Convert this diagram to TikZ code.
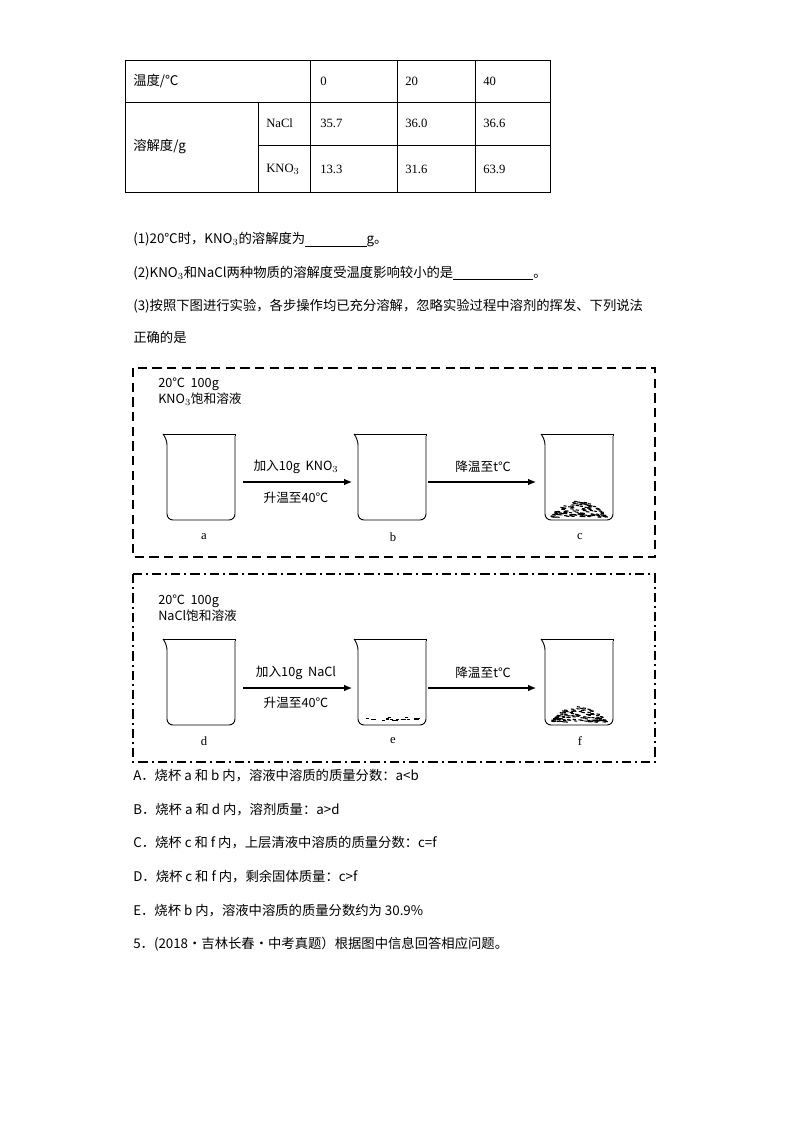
\documentclass[tikz,border=0pt]{standalone}
\usepackage{fontspec}
\setmainfont{Liberation Serif}
\newfontfamily\cjk{Noto Sans CJK SC}
\usetikzlibrary{arrows.meta}
\begin{document}
\begin{tikzpicture}[x=0.75pt,y=-0.75pt,
  tx/.style={anchor=west,inner sep=0pt,font=\cjk\fontsize{10}{12}\selectfont},
  tb/.style={anchor=west,inner sep=0pt,font=\fontsize{9.5}{11}\selectfont},
  lab/.style={inner sep=0pt,font=\fontsize{9.5}{11}\selectfont},
  dg/.style={inner sep=0pt,font=\cjk\fontsize{9.5}{12}\selectfont},
  arr/.style={-{Latex[length=6pt,width=5pt]},line width=0.8pt},
  bk/.style={line width=0.7pt}]
\useasboundingbox (0,0) rectangle (794,1123);
% table
\draw[line width=0.6pt] (125,60) rectangle (550,192);
\draw[line width=0.6pt] (310,60) -- (310,192) (397,60) -- (397,192) (475,60) -- (475,192);
\draw[line width=0.6pt] (125,102) -- (550,102) (258,102) -- (258,192) (258,145) -- (550,145);
\node[tx] (t1) at (133,81) {温度/℃};
\node[tb] (t2) at (320,81) {0};
\node[tb] (t3) at (405,81) {20};
\node[tb] (t4) at (483,81) {40};
\node[tx] (t5) at (133,147) {溶解度/g};
\node[tb] (t6) at (266,123) {NaCl};
\node[tb] (t7) at (320,123) {35.7};
\node[tb] (t8) at (405,123) {36.0};
\node[tb] (t9) at (483,123) {36.6};
\node[tb] (t10) at (266,169) {KNO$_3$};
\node[tb] (t11) at (320,169) {13.3};
\node[tb] (t12) at (405,169) {31.6};
\node[tb] (t13) at (483,169) {63.9};
% questions
\node[tx] (q1) at (133,240) {(1)20℃时，KNO$_3$的溶解度为\underline{\hspace{46pt}}g。};
\node[tx] (q2) at (133,273) {(2)KNO$_3$和NaCl两种物质的溶解度受温度影响较小的是\underline{\hspace{60pt}}。};
\node[tx] (q3) at (133,306) {(3)按照下图进行实验，各步操作均已充分溶解，忽略实验过程中溶剂的挥发、下列说法};
\node[tx] (q4) at (133,337) {正确的是};
% boxes
\draw[line width=0.8pt,dash pattern=on 7pt off 4pt] (133,368) rectangle (655,557);
\draw[line width=0.8pt,dash pattern=on 7pt off 3pt on 1.5pt off 3pt] (133,574) rectangle (655,762);
\node[dg,align=left,anchor=north west] (h1) at (158,378) {20℃\ \ 100g\\KNO$_3$饱和溶液};
\node[dg,align=left,anchor=north west] (h2) at (158,595) {20℃\ \ 100g\\NaCl饱和溶液};
% beakers
\foreach \x/\y/\n in {167/436/a,358/436/b,545/436/c,167/641/d,358/641/e,545/641/f}{
  \draw[bk,rounded corners=4.5pt] (\x-4,\y-2) -- (\x,\y+3) -- (\x,\y+84) -- (\x+68,\y+84) -- (\x+68,\y);
  \draw[bk] (\x-4,\y-2) -- (\x+68,\y-2) -- (\x+68,\y);
  \coordinate (bk\n) at (\x+34,\y+42);
}
\node[lab] (la) at (204,537) {a};
\node[lab] (lb) at (393,537) {b};
\node[lab] (lc) at (580,537) {c};
\node[lab] (ld) at (204,741) {d};
\node[lab] (le) at (393,741) {e};
\node[lab] (lf) at (580,741) {f};
% sediments
\pgfmathsetseed{7}
\foreach \cy in {516,721}{
  \foreach \i in {1,...,120}{
    \pgfmathsetmacro\u{rand}\pgfmathsetmacro\v{rnd}
    \pgfmathsetmacro\px{579+\u*28}
    \pgfmathsetmacro\py{\cy+1-\v*16*(1-\u*\u)}
    \draw[line width=0.8pt] (\px-1.6,\py) -- (\px+1.6,\py+0.4);
  }
}
\foreach \i in {1,...,20}{
  \pgfmathsetmacro\u{rand}\pgfmathsetmacro\v{rand}
  \draw[line width=0.8pt] (392+\u*26-1.6,719+\v*2) -- (392+\u*26+1.6,719+\v*2);
}
% arrows
\draw[arr] (243,482) -- (352,482);
\draw[arr] (428,482) -- (536,482);
\draw[arr] (243,688) -- (352,688);
\draw[arr] (428,688) -- (536,688);
\node[dg] (m1) at (296,467) {加入10g\ \ KNO$_3$};
\node[dg] (m2) at (296,498) {升温至40℃};
\node[dg] (m3) at (483,467) {降温至t℃};
\node[dg] (m4) at (296,673) {加入10g\ \ NaCl};
\node[dg] (m5) at (296,703) {升温至40℃};
\node[dg] (m6) at (483,673) {降温至t℃};
% options
\node[tx] (oa) at (133,776) {A．烧杯 a 和 b 内，溶液中溶质的质量分数：a<b};
\node[tx] (ob) at (133,810) {B．烧杯 a 和 d 内，溶剂质量：a>d};
\node[tx] (oc) at (133,843) {C．烧杯 c 和 f 内，上层清液中溶质的质量分数：c=f};
\node[tx] (od) at (133,877) {D．烧杯 c 和 f 内，剩余固体质量：c>f};
\node[tx] (oe) at (133,911) {E．烧杯 b 内，溶液中溶质的质量分数约为 30.9\%};
\node[tx] (o5) at (133,944) {5．(2018·吉林长春·中考真题）根据图中信息回答相应问题。};
\end{tikzpicture}
\end{document}
